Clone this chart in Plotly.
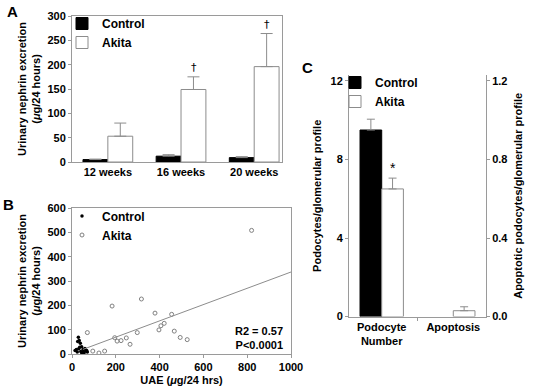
import plotly.graph_objects as go

W, H = 537, 390

# ---------------- Panel A data ----------------
weeks = ["12 weeks", "16 weeks", "20 weeks"]
a_control = [5, 12, 9]
a_control_err = [1, 3, 2]
a_akita = [53, 149, 196]
a_akita_err = [27, 26, 68]
a_sig = ["", "†", "†"]

# ---------------- Panel B data ----------------
b_control_uae = [29, 33, 38, 26, 44, 51, 14, 67, 59, 24, 49, 40, 31, 55, 62, 20, 45, 35, 70]
b_control_nep = [69, 55, 44, 51, 30, 19, 14, 14, 23, 8, 7, 10, 22, 5, 12, 18, 3, 28, 8]
b_akita_uae = [820, 183, 317, 379, 455, 397, 406, 421, 467, 494, 526, 298, 195, 206, 224, 248, 265, 70, 95, 123, 149]
b_akita_nep = [508, 197, 226, 168, 163, 99, 116, 126, 94, 68, 59, 88, 67, 53, 55, 66, 40, 88, 12, 4, 12]
fit_uae = [50, 1000]
fit_nep = [19, 337]

# ---------------- Panel C data ----------------
c_cats = ["Podocyte<br>Number", "Apoptosis"]
c_podo_control, c_podo_control_err = 9.5, 0.55
c_podo_akita, c_podo_akita_err = 6.5, 0.55
c_apop_control, c_apop_control_err = 0.0, 0.0
c_apop_akita, c_apop_akita_err = 0.03, 0.02

GRAY = "#8c8c8c"
AX = "#9a9a9a"
FONT = "Liberation Sans, Arial, sans-serif"

def px(x):
    return x / W

def py(y):
    return 1 - y / H

fig = go.Figure()

# Panel A bars
bw_a = 0.34
fig.add_trace(go.Bar(
    x=weeks, y=a_control, name="Control", xaxis="x", yaxis="y",
    offset=-bw_a, width=bw_a,
    marker=dict(color="black", line=dict(color="black", width=1)),
    error_y=dict(type="data", array=a_control_err, arrayminus=[0] * 3, symmetric=False,
                 color=GRAY, thickness=1, width=6),
    legend="legend"))
fig.add_trace(go.Bar(
    x=weeks, y=a_akita, name="Akita", xaxis="x", yaxis="y",
    offset=0, width=bw_a,
    marker=dict(color="white", line=dict(color=GRAY, width=1)),
    error_y=dict(type="data", array=a_akita_err, arrayminus=[0] * 3, symmetric=False,
                 color=GRAY, thickness=1, width=6),
    legend="legend"))

# Panel B scatter
fig.add_trace(go.Scatter(
    x=b_control_uae, y=b_control_nep, mode="markers", name="Control",
    xaxis="x2", yaxis="y2", marker=dict(color="black", size=3.5),
    legend="legend2"))
fig.add_trace(go.Scatter(
    x=b_akita_uae, y=b_akita_nep, mode="markers", name="Akita",
    xaxis="x2", yaxis="y2",
    marker=dict(symbol="circle-open", color="#808080", size=4, line=dict(width=1)),
    legend="legend2"))
fig.add_trace(go.Scatter(
    x=fit_uae, y=fit_nep, mode="lines", showlegend=False,
    xaxis="x2", yaxis="y2", line=dict(color=GRAY, width=1)))

# Panel C bars
bw_c = 0.303
fig.add_trace(go.Bar(
    x=[c_cats[0]], y=[c_podo_control], name="Control", xaxis="x3", yaxis="y3",
    offset=-bw_c, width=bw_c,
    marker=dict(color="black", line=dict(color="black", width=1)),
    error_y=dict(type="data", array=[c_podo_control_err], arrayminus=[0], symmetric=False,
                 color=GRAY, thickness=1, width=4),
    legend="legend3"))
fig.add_trace(go.Bar(
    x=[c_cats[0]], y=[c_podo_akita], name="Akita", xaxis="x3", yaxis="y3",
    offset=0, width=bw_c,
    marker=dict(color="white", line=dict(color=GRAY, width=1)),
    error_y=dict(type="data", array=[c_podo_akita_err], arrayminus=[0], symmetric=False,
                 color=GRAY, thickness=1, width=4),
    legend="legend3"))
fig.add_trace(go.Bar(
    x=[c_cats[1]], y=[c_apop_control], name="Control", xaxis="x3", yaxis="y4",
    offset=-bw_c, width=bw_c, showlegend=False,
    marker=dict(color="black", line=dict(color="black", width=0))))
fig.add_trace(go.Bar(
    x=[c_cats[1]], y=[c_apop_akita], name="Akita", xaxis="x3", yaxis="y4",
    offset=0, width=bw_c, showlegend=False,
    marker=dict(color="white", line=dict(color=GRAY, width=1)),
    error_y=dict(type="data", array=[c_apop_akita_err], arrayminus=[0], symmetric=False,
                 color=GRAY, thickness=1, width=4)))

axis_common = dict(showgrid=False, zeroline=False, linecolor=AX, linewidth=1,
                   ticks="outside", ticklen=3, tickcolor=AX, automargin=False,
                   tickfont=dict(size=11, color="black", family=FONT, weight="bold"))
title_font = dict(size=11, color="black", family=FONT, weight="bold")

annotations = []
# significance marks panel A
for w, v, e, s in zip(weeks, a_akita, a_akita_err, a_sig):
    if s:
        annotations.append(dict(x=w, y=v + e, xref="x", yref="y", text=s, showarrow=False,
                                xshift=12.5, yanchor="bottom", yshift=1,
                                font=dict(size=11, color="black", family="DejaVu Sans",
                                          weight="normal")))
# asterisk panel C
annotations.append(dict(x=c_cats[0], y=c_podo_akita + c_podo_akita_err, xref="x3", yref="y3",
                        text="*", showarrow=False, xshift=11, yanchor="bottom", yshift=0,
                        font=dict(size=14, color="black", family=FONT, weight="normal")))
# stats panel B
annotations.append(dict(x=px(285), y=py(338), xref="paper", yref="paper",
                        text="R2 = 0.57<br>P<0.0001", showarrow=False, align="right",
                        xanchor="right", yanchor="middle",
                        font=dict(size=11, color="black", family=FONT, weight="bold")))
# panel letters
for letter, lx, ly in [("A", 12, 11), ("B", 8, 204), ("C", 307, 67)]:
    annotations.append(dict(x=px(lx), y=py(ly), xref="paper", yref="paper", text=letter,
                            showarrow=False, xanchor="center", yanchor="middle",
                            font=dict(size=15, color="black", family=FONT, weight="bold")))

legend_common = dict(bgcolor="rgba(0,0,0,0)", xanchor="left", yanchor="top",
                     font=dict(size=12, color="black", family=FONT, weight="bold"),
                     tracegroupgap=0)

fig.update_layout(
    width=W, height=H,
    margin=dict(l=0, r=0, t=0, b=0, autoexpand=False),
    paper_bgcolor="white", plot_bgcolor="white",
    font=dict(family=FONT, size=11, color="black", weight="bold"),
    barmode="overlay",
    xaxis=dict(domain=[px(72), px(282)], anchor="y", range=[-0.49, 2.38],
               mirror=True, **{**axis_common, "ticks": ""}),
    yaxis=dict(domain=[py(162), py(16)], anchor="x", range=[0, 300], dtick=50,
               mirror=True,
               title=dict(text="Urinary nephrin excretion<br>(<i>μ</i>g/24 hours)",
                          font=title_font, standoff=4),
               **axis_common),
    xaxis2=dict(domain=[px(72), px(291)], anchor="y2", range=[0, 1000], dtick=200,
                mirror=True,
                title=dict(text="UAE (<i>μ</i>g/24 hrs)", font=title_font, standoff=4),
                **axis_common),
    yaxis2=dict(domain=[py(354), py(208)], anchor="x2", range=[0, 600], dtick=100,
                mirror=True,
                title=dict(text="Urinary nephrin excretion<br>(<i>μ</i>g/24 hours)",
                           font=title_font, standoff=4),
                **axis_common),
    xaxis3=dict(domain=[px(349), px(486)], anchor="y3", range=[-0.457, 1.457],
                tickson="boundaries", **axis_common),
    yaxis3=dict(domain=[py(316.6), py(75)], anchor="x3", range=[0, 12.3],
                tickvals=[0, 4, 8, 12],
                title=dict(text="Podocytes/glomerular profile", font=title_font, standoff=6),
                **axis_common),
    yaxis4=dict(domain=[py(316.6), py(75)], anchor="x3", overlaying="y3", side="right",
                range=[0, 1.23], tickvals=[0, 0.4, 0.8, 1.2], tickformat=".1f",
                title=dict(text="Apoptotic podocytes/glomerular profile", font=title_font,
                           standoff=6),
                **axis_common),
    legend=dict(x=px(62), y=py(9), **legend_common),
    legend2=dict(x=px(62), y=py(201.5), **legend_common),
    legend3=dict(x=px(335), y=py(68), **legend_common),
    annotations=annotations,
    showlegend=True,
)

fig.write_html("out.html", config={"displayModeBar": False},
               post_script="document.body.style.margin='0px';document.body.style.overflow='hidden';")
